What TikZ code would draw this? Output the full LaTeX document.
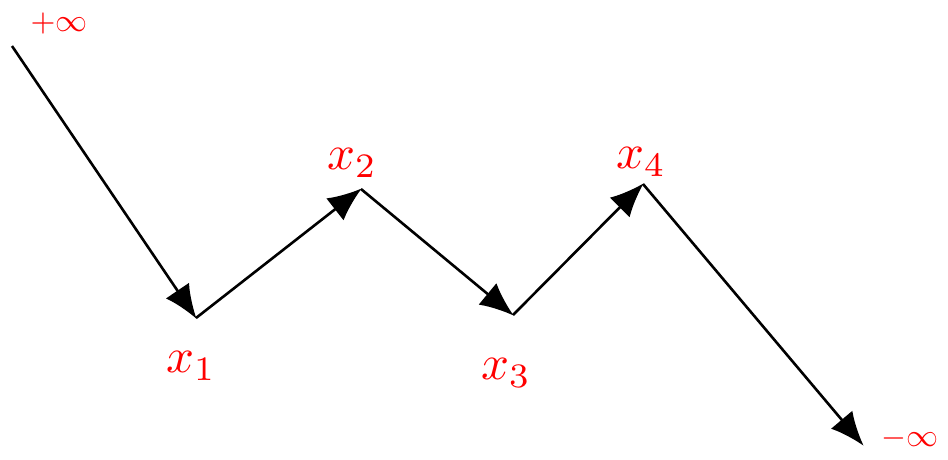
\documentclass[tikz,border=0pt]{standalone}
\usetikzlibrary{arrows.meta}
\begin{document}
\begin{tikzpicture}[x=1pt,y=-1pt,
  seg/.style={line width=2.6pt,-{Latex[length=34pt,width=28pt]},shorten >=-1pt},
  lab/.style={text=red,inner sep=0pt,scale=4.9},
  inflab/.style={text=red,inner sep=0pt,scale=3.2}]
\useasboundingbox (0,0) rectangle (948,459);
\coordinate (s) at (12,46);
\coordinate (p1) at (196,318);
\coordinate (p2) at (361,189);
\coordinate (p3) at (513,315);
\coordinate (p4) at (643,184);
\coordinate (e) at (863,445);
\draw[seg] (s) -- (p1);
\draw[seg] (p1) -- (p2);
\draw[seg] (p2) -- (p3);
\draw[seg] (p3) -- (p4);
\draw[seg] (p4) -- (e);
\node[inflab] (lpinf) at (59,23) {$+\infty$};
\node[inflab] (lminf) at (910,438) {$-\infty$};
\node[lab] (l1) at (191,366) {$x_1$};
\node[lab] (l2) at (352,163) {$x_2$};
\node[lab] (l3) at (506,373) {$x_3$};
\node[lab] (l4) at (641,162) {$x_4$};
\end{tikzpicture}
\end{document}
